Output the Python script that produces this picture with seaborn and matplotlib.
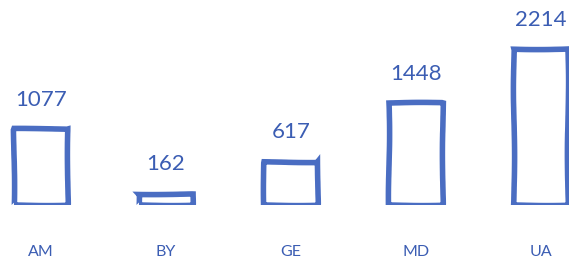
#importing module and library
import pandas as pd
import seaborn as sns
import matplotlib.pyplot as plt

#chart values
countries = ['AM', 'BY', 'GE', 'MD', 'UA']
counts = [1077, 162, 617, 1448, 2214]

blue = '#4a6dc2'
text_blue = '#3b5db3'

df = pd.DataFrame({'country': countries, 'count': counts})

sns.set_style('white')
plt.rcParams['font.family'] = ['Lato', 'DejaVu Sans']

fig = plt.figure(figsize=(5.69, 2.60), dpi=100)
ax = fig.add_axes([0, 55 / 260, 1, 205 / 260])

sns.barplot(data=df, x='country', y='count', color='white', width=0.43,
            edgecolor=blue, linewidth=4, ax=ax)
#hand drawn look, kept subtle
for bar in ax.patches:
    bar.set_sketch_params(0.6, 150, 2)
    bar.set_joinstyle('miter')

#labels above bars
for bar, v in zip(ax.patches, counts):
    ax.annotate(str(v), (bar.get_x() + bar.get_width() / 2, bar.get_height()),
                xytext=(0, 14), textcoords='offset points', ha='center', va='bottom',
                fontsize=16, color=text_blue)

ax.set_xlim(-41 / 125, (569 - 41) / 125)
ax.set_ylim(0, 2909)
ax.set_xlabel('')
ax.set_ylabel('')
ax.set_yticks([])
ax.tick_params(axis='x', length=0, pad=29, labelsize=11.5, labelcolor=text_blue)
sns.despine(left=True, bottom=True)

plt.savefig('out.png', dpi=100)
